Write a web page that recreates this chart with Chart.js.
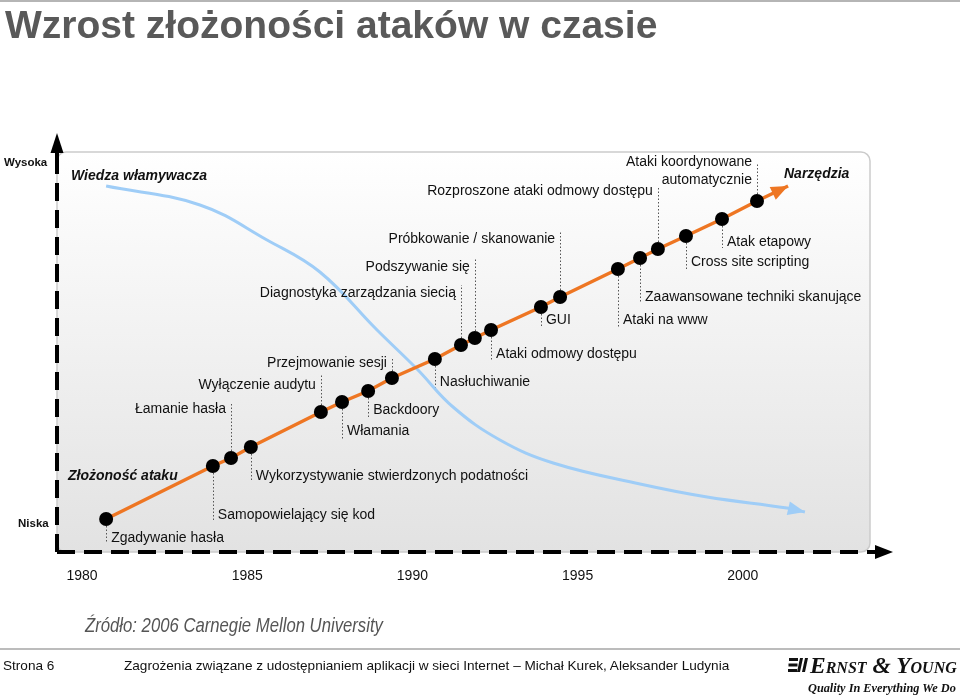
<!DOCTYPE html>
<html>
<head>
<meta charset="utf-8">
<script src="https://cdn.jsdelivr.net/npm/chart.js@4.4.1/dist/chart.umd.min.js"></script>
<style>
  body { margin: 0; background: #fff; font-family: "Liberation Sans", Arial, sans-serif; }
  #slide { position: relative; width: 960px; height: 696px; overflow: hidden; }
  #myChart { position: absolute; left: 0; top: 0; }
  .t { position: absolute; white-space: nowrap; line-height: 1; color: #111; }
  .topline { position: absolute; left: 0; top: 0; width: 960px; height: 2px; background: #b5b5b5; }
  .footline { position: absolute; left: 0; top: 648px; width: 960px; height: 2px; background: #bcbcbc; }
</style>
</head>
<body>
<div id="slide">
  <canvas id="myChart" width="960" height="696"></canvas>
  <div class="topline"></div>
  <div class="t" style="left:5px;top:5px;font-size:39px;font-weight:bold;color:#595959;">Wzrost złożoności ataków w czasie</div>
  <div class="t" style="left:4px;top:157px;font-size:11.5px;font-weight:bold;">Wysoka</div>
  <div class="t" style="left:18px;top:518px;font-size:11.5px;font-weight:bold;">Niska</div>
  <div class="t" style="left:71px;top:168px;font-size:14px;font-weight:bold;font-style:italic;">Wiedza włamywacza</div>
  <div class="t" style="left:784px;top:166px;font-size:14px;font-weight:bold;font-style:italic;">Narzędzia</div>
  <div class="t" style="left:68px;top:468px;font-size:14px;font-weight:bold;font-style:italic;">Złożoność ataku</div>
  <div class="t" style="left:85px;top:614px;font-size:21px;font-style:italic;color:#555;transform:scaleX(0.795);transform-origin:0 0;">Źródło: 2006 Carnegie Mellon University</div>
  <div class="footline"></div>
  <div class="t" style="left:3px;top:659px;font-size:13.6px;">Strona 6</div>
  <div class="t" style="left:124px;top:659px;font-size:13.6px;">Zagrożenia związane z udostępnianiem aplikacji w sieci Internet – Michał Kurek, Aleksander Ludynia</div>
  <svg style="position:absolute;left:788px;top:657px;" width="20" height="16" viewBox="0 0 20 16">
    <rect x="1" y="1" width="9" height="3" fill="#111"/>
    <rect x="0.5" y="6.5" width="9" height="3" fill="#111"/>
    <rect x="0" y="12" width="9" height="3" fill="#111"/>
    <polygon points="12,1 15,1 12,15 9,15" fill="#111"/>
    <polygon points="17,1 20,1 17,15 14,15" fill="#111"/>
  </svg>
  <div class="t" style="left:810px;top:654px;font-size:23.5px;font-weight:bold;font-style:italic;font-variant:small-caps;font-family:'Liberation Serif','DejaVu Serif',serif;">Ernst &amp; Young</div>
  <div class="t" style="left:808px;top:682px;font-size:12.3px;font-weight:bold;font-style:italic;font-family:'Liberation Serif','DejaVu Serif',serif;">Quality In Everything We Do</div>
</div>
<script>
// lata i poziom złożoności kolejnych ataków
var years = [1980.73, 1983.96, 1984.51, 1985.11, 1987.23, 1987.87, 1988.66, 1989.38, 1990.68, 1991.47,
             1991.89, 1992.38, 1993.89, 1994.47, 1996.22, 1996.89, 1997.43, 1998.28, 1999.37, 2000.43];
var complexity = [8.25, 21.5, 23.5, 26.25, 35, 37.5, 40.25, 43.5, 48.25, 51.75,
                  53.5, 55.5, 61.25, 63.75, 70.75, 73.5, 75.75, 79, 83.25, 87.75];
var attacks = ['Zgadywanie hasła', 'Samopowielający się kod', 'Łamanie hasła',
               'Wykorzystywanie stwierdzonych podatności', 'Wyłączenie audytu', 'Włamania', 'Backdoory',
               'Przejmowanie sesji', 'Nasłuchiwanie', 'Diagnostyka zarządzania siecią', 'Podszywanie się',
               'Ataki odmowy dostępu', 'GUI', 'Próbkowanie / skanowanie', 'Ataki na www',
               'Zaawansowane techniki skanujące', 'Rozproszone ataki odmowy dostępu', 'Cross site scripting',
               'Atak etapowy', 'Ataki koordynowane\nautomatycznie'];
var trendEnd = [2001.37, 91.5];

// krzywa "Wiedza włamywacza"
var knowledgeYears = [1980.73, 1983.57, 1985.6, 1987.2, 1988.93, 1990.14, 1991.23,
                      1992.65, 1994.26, 1996.89, 1998.92, 2001.34, 2001.88];
var knowledgeLevel = [91.5, 86.75, 78, 70, 55.5, 45.75, 36.25,
                      28, 22.25, 17, 13.75, 11, 10];

var tickYears = [1980, 1985, 1990, 1995, 2000];

// etykiety: kierunek odnośnika, długość odnośnika, przesunięcie tekstu
var labelLayout = [['d', 24, 19], ['d', 55, 49], ['u', 56, 49], ['d', 35, 29], ['u', 37, 27],
                   ['d', 38, 29], ['d', 27, 19], ['u', 21, 15], ['d', 29, 23], ['u', 60, 52],
                   ['u', 80, 71], ['d', 31, 24], ['d', 21, 13], ['u', 65, 58], ['d', 59, 51],
                   ['d', 45, 39], ['u', 62, 58], ['d', 34, 26], ['d', 29, 23], ['u', 38, 21]];

var orange = '#ee7623';
var blue = '#9fcdf7';

var trendPts = years.map(function (y, i) { return { x: y, y: complexity[i] }; });
var linePts = trendPts.concat([{ x: trendEnd[0], y: trendEnd[1] }]);
var knowPts = knowledgeYears.map(function (y, i) { return { x: y, y: knowledgeLevel[i] }; });

function arrowHead(c, x1, y1, x2, y2, len, half, color) {
    var a = Math.atan2(y2 - y1, x2 - x1);
    var bx = x2 - len * Math.cos(a), by = y2 - len * Math.sin(a);
    c.beginPath();
    c.moveTo(x2, y2);
    c.lineTo(bx + half * Math.sin(a), by - half * Math.cos(a));
    c.lineTo(bx - half * Math.sin(a), by + half * Math.cos(a));
    c.closePath();
    c.fillStyle = color;
    c.fill();
}

var slidePlugin = {
    id: 'slide',
    beforeDatasetsDraw: function (chart) {
        var c = chart.ctx, a = chart.chartArea;
        c.save();
        // tło wykresu
        var g = c.createLinearGradient(0, a.top, 0, a.bottom);
        g.addColorStop(0, '#ffffff');
        g.addColorStop(1, '#e2e2e2');
        c.beginPath();
        c.roundRect(a.left, a.top, a.right - a.left, a.bottom - a.top, 9);
        c.fillStyle = g;
        c.fill();
        c.strokeStyle = '#cbcbcb';
        c.lineWidth = 1.5;
        c.stroke();

        // osie przerywane ze strzałkami
        c.strokeStyle = '#000';
        c.lineWidth = 4;
        c.setLineDash([18, 9]);
        c.beginPath();
        c.moveTo(a.left, a.bottom);
        c.lineTo(a.left, a.top + 10);
        c.moveTo(a.left, a.bottom);
        c.lineTo(a.right + 8, a.bottom);
        c.stroke();
        c.setLineDash([]);
        c.beginPath();
        c.moveTo(a.left, a.top + 12);
        c.lineTo(a.left, a.top - 8);
        c.moveTo(a.right + 2, a.bottom);
        c.lineTo(a.right + 12, a.bottom);
        c.stroke();
        arrowHead(c, a.left, a.top, a.left, a.top - 19, 20, 6.5, '#000');
        arrowHead(c, a.right, a.bottom, a.right + 23, a.bottom, 18, 7, '#000');

        // odnośniki kropkowane
        var meta = chart.getDatasetMeta(0);
        c.strokeStyle = '#555';
        c.lineWidth = 1;
        c.setLineDash([1.5, 2]);
        meta.data.forEach(function (pt, i) {
            var l = labelLayout[i];
            var x = Math.round(pt.x) + 0.5;
            c.beginPath();
            c.moveTo(x, pt.y);
            c.lineTo(x, l[0] === 'd' ? pt.y + l[1] : pt.y - l[1]);
            c.stroke();
        });
        c.restore();
    },
    afterDatasetsDraw: function (chart) {
        var c = chart.ctx;
        c.save();
        // groty strzałek
        var lm = chart.getDatasetMeta(1).data;
        var n = lm.length;
        arrowHead(c, lm[n - 2].x, lm[n - 2].y, lm[n - 1].x, lm[n - 1].y, 17, 7, orange);
        var km = chart.getDatasetMeta(2).data;
        var k = km.length;
        arrowHead(c, km[k - 2].x, km[k - 2].y, km[k - 1].x, km[k - 1].y, 17, 7, blue);

        // podpisy punktów
        var meta = chart.getDatasetMeta(0);
        c.font = '14px "Liberation Sans", Arial, sans-serif';
        c.fillStyle = '#111';
        c.textBaseline = 'middle';
        meta.data.forEach(function (pt, i) {
            var l = labelLayout[i];
            var lines = attacks[i].split('\n');
            if (l[0] === 'd') {
                c.textAlign = 'left';
                lines.forEach(function (s, j) { c.fillText(s, pt.x + 5, pt.y + l[2] + j * 18); });
            } else {
                c.textAlign = 'right';
                lines.forEach(function (s, j) {
                    c.fillText(s, pt.x - 5, pt.y - l[2] - (lines.length - 1 - j) * 18);
                });
            }
        });
        c.restore();
    }
};

var ctx = document.getElementById('myChart').getContext('2d');
var myChart = new Chart(ctx, {
    type: 'scatter',
    data: {
        datasets: [{
            label: 'Ataki',
            data: trendPts,
            pointRadius: 7,
            pointBackgroundColor: '#000',
            pointBorderWidth: 0,
            showLine: false,
            order: 0
        }, {
            label: 'Złożoność ataku',
            type: 'line',
            data: linePts,
            borderColor: orange,
            borderWidth: 3.5,
            pointRadius: 0,
            tension: 0,
            fill: false,
            order: 1
        }, {
            label: 'Wiedza włamywacza',
            type: 'line',
            data: knowPts,
            borderColor: blue,
            borderWidth: 3,
            pointRadius: 0,
            tension: 0.4,
            fill: false,
            order: 2
        }]
    },
    options: {
        responsive: false,
        animation: false,
        events: [],
        layout: { padding: { left: 57, right: 90, top: 152, bottom: 104 } },
        plugins: { legend: { display: false }, tooltip: { enabled: false } },
        scales: {
            x: {
                type: 'linear',
                min: 1979.243,
                max: 2003.85,
                grid: { display: false, drawTicks: false },
                border: { display: false },
                afterBuildTicks: function (s) { s.ticks = tickYears.map(function (v) { return { value: v }; }); },
                afterFit: function (s) { s.height = 40; },
                ticks: {
                    padding: 16,
                    maxRotation: 0,
                    autoSkip: false,
                    color: '#111',
                    font: { family: '"Liberation Sans", Arial, sans-serif', size: 14 },
                    callback: function (v) { return String(v); }
                }
            },
            y: { display: false, min: 0, max: 100 }
        }
    },
    plugins: [slidePlugin]
});
</script>
</body>
</html>
